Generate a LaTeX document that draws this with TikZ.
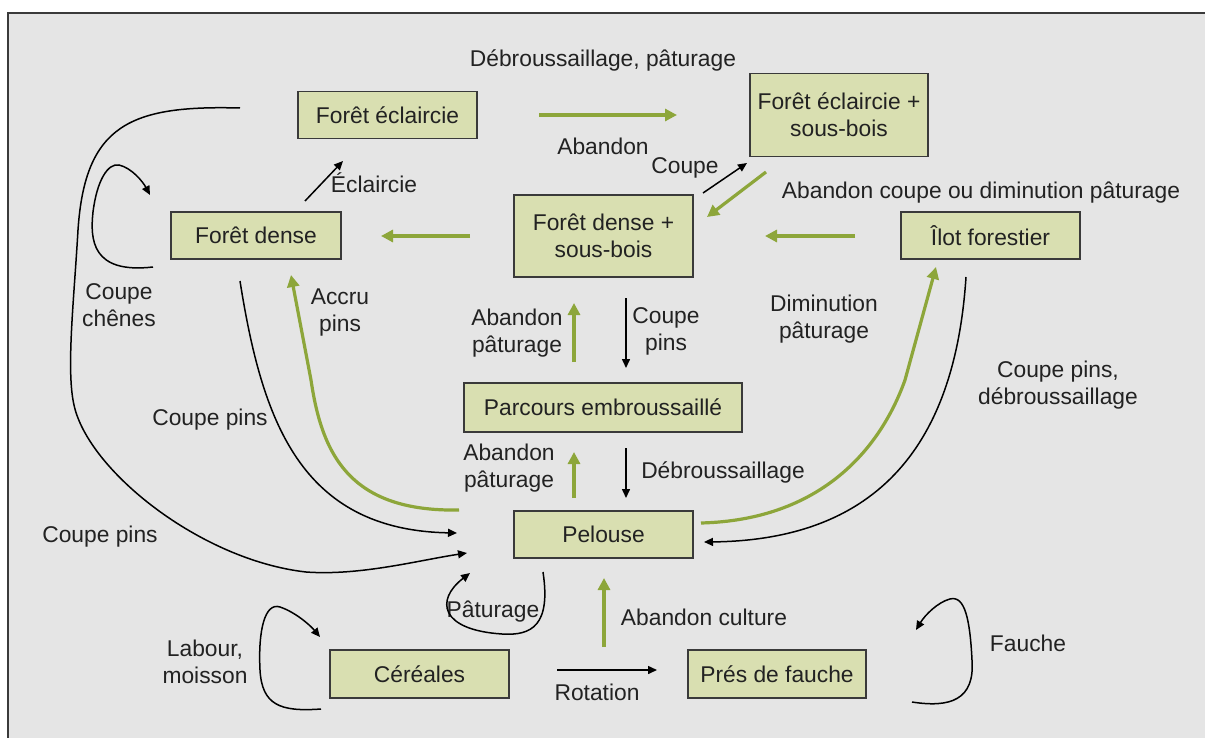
\documentclass[tikz,border=0pt]{standalone}
\usepackage{fontspec}
\setmainfont{Liberation Sans}
\usetikzlibrary{arrows.meta}
\definecolor{bg}{HTML}{E5E5E5}
\definecolor{boxfill}{HTML}{D9DFB1}
\definecolor{grn}{HTML}{8DA63A}
\definecolor{framec}{HTML}{3A3A3A}
\definecolor{txt}{HTML}{222222}
\begin{document}
\begin{tikzpicture}[x=1pt,y=-1pt,
  font=\fontsize{22.8}{27}\selectfont, text=txt,
  box/.style={draw=framec,line width=1.8pt,fill=boxfill,inner sep=0pt,align=center},
  lbl/.style={align=center,inner sep=0pt},
  garr/.style={draw=grn,line width=3.2pt,-{Triangle[length=12pt,width=12pt]}},
  barr/.style={draw=black,line width=1.5pt,-{Triangle[length=9pt,width=8pt]}}]
\useasboundingbox (0,0) rectangle (1205,738);
\fill[white] (0,0) rectangle (1205,738);
\fill[bg] (8,13) rectangle (1205,738);
\draw[framec,line width=2pt] (8,738) -- (8,13) -- (1205,13);

% boxes
\node[box,minimum width=179,minimum height=47] (fe) at (387.5,115) {Forêt éclaircie};
\node[box,minimum width=178,minimum height=83] (fes) at (839,115) {Forêt éclaircie +\\sous-bois};
\node[box,minimum width=170,minimum height=47] (fd) at (256,235.5) {Forêt dense};
\node[box,minimum width=179,minimum height=82] (fds) at (603.5,236) {Forêt dense +\\sous-bois};
\node[box,minimum width=179,minimum height=47] (il) at (990.5,235.5) {Îlot forestier};
\node[box,minimum width=278,minimum height=49] (pe) at (603,407.5) {Parcours embroussaillé};
\node[box,minimum width=179,minimum height=47] (pel) at (603.5,534.5) {Pelouse};
\node[box,minimum width=179,minimum height=48] (ce) at (419.5,674) {Céréales};
\node[box,minimum width=178,minimum height=48] (pf) at (777,674) {Prés de fauche};

% labels
\node[lbl] (l1) at (603,60) {Débroussaillage, pâturage};
\node[lbl] (l2) at (603,146) {Abandon};
\node[lbl] (l3) at (374,183) {Éclaircie};
\node[lbl] (l4) at (685,168) {Coupe};
\node[lbl] (l5) at (981,193) {Abandon coupe ou diminution pâturage};
\node[lbl] (l6) at (119,305) {Coupe\\chênes};
\node[lbl] (l7) at (340,313) {Accru\\pins};
\node[lbl] (l8) at (517,333) {Abandon\\pâturage};
\node[lbl] (l9) at (666,331) {Coupe\\pins};
\node[lbl] (l10) at (824,319) {Diminution\\pâturage};
\node[lbl] (l11) at (210,420) {Coupe pins};
\node[lbl] (l12) at (100,537) {Coupe pins};
\node[lbl] (l13) at (1058,385) {Coupe pins,\\débroussaillage};
\node[lbl] (l14) at (509,468) {Abandon\\pâturage};
\node[lbl] (l15) at (723,472) {Débroussaillage};
\node[lbl] (l16) at (493,612) {Pâturage};
\node[lbl] (l17) at (704,617) {Abandon culture};
\node[lbl] (l18) at (597,692) {Rotation};
\node[lbl] (l19) at (205,662) {Labour,\\moisson};
\node[lbl] (l20) at (1028,643) {Fauche};

% connector end points
\coordinate (a1s) at (539,115);  \coordinate (a1e) at (677,115);
\coordinate (a2s) at (470,236);  \coordinate (a2e) at (381,236);
\coordinate (a3s) at (855,236);  \coordinate (a3e) at (765,236);
\coordinate (a4s) at (766,172);  \coordinate (a4e) at (707,217);
\coordinate (a5s) at (703,193);  \coordinate (a5e) at (747,163);
\coordinate (a6s) at (305,201);  \coordinate (a6e) at (343,161);
\coordinate (a7s) at (626,298);  \coordinate (a7e) at (626,368);
\coordinate (a8s) at (574,362);  \coordinate (a8e) at (574,303);
\coordinate (a9s) at (626,448);  \coordinate (a9e) at (626,498);
\coordinate (a10s) at (574,498); \coordinate (a10e) at (574,452);
\coordinate (a11s) at (604,647); \coordinate (a11e) at (604,578);
\coordinate (a12s) at (557,670); \coordinate (a12e) at (657,670);

\draw[garr] (a1s) -- (a1e);
\draw[garr] (a2s) -- (a2e);
\draw[garr] (a3s) -- (a3e);
\draw[garr] (a4s) -- (a4e);
\draw[barr] (a5s) -- (a5e);
\draw[barr] (a6s) -- (a6e);
\draw[barr] (a7s) -- (a7e);
\draw[garr] (a8s) -- (a8e);
\draw[barr] (a9s) -- (a9e);
\draw[garr] (a10s) -- (a10e);
\draw[garr] (a11s) -- (a11e);
\draw[barr] (a12s) -- (a12e);

% curves
\coordinate (c1s) at (153,267); \coordinate (c1e) at (150,195);
\draw[barr] (c1s) .. controls (92,274) and (90,240) .. (93,212)
  .. controls (97,180) and (108,163) .. (119,165)
  .. controls (132,168) and (143,182) .. (c1e);

\coordinate (c2s) at (240,108); \coordinate (c2e) at (467,553);
\draw[barr] (c2s) .. controls (130,105) and (85,125) .. (78,230)
  .. controls (74,300) and (66,370) .. (74,405)
  .. controls (88,470) and (200,560) .. (306,572)
  .. controls (360,576) and (420,560) .. (c2e);

\coordinate (c3s) at (240,281); \coordinate (c3e) at (457,533);
\draw[barr] (c3s) .. controls (262,420) and (300,530) .. (c3e);

\coordinate (c4s) at (459,510); \coordinate (c4e) at (291,275);
\draw[garr] (c4s) .. controls (350,512) and (322,455) .. (311,380) -- (c4e);

\coordinate (c5s) at (701,523); \coordinate (c5e) at (936,267);
\draw[garr] (c5s) .. controls (820,520) and (880,450) .. (905,380) -- (c5e);

\coordinate (c6s) at (966,277); \coordinate (c6e) at (704,542);
\draw[barr] (c6s) .. controls (956,430) and (890,540) .. (c6e);

\coordinate (c7s) at (543,572); \coordinate (c7e) at (470,573);
\draw[barr] (c7s) .. controls (551,625) and (532,636) .. (502,634)
  .. controls (440,630) and (435,600) .. (c7e);

\coordinate (c8s) at (321,709); \coordinate (c8e) at (320,637);
\draw[barr] (c8s) .. controls (280,712) and (262,705) .. (260,670)
  .. controls (258,630) and (265,602) .. (280,607)
  .. controls (295,612) and (310,625) .. (c8e);

\coordinate (c9s) at (912,702); \coordinate (c9e) at (916,630);
\draw[barr] (c9s) .. controls (950,708) and (975,700) .. (972,660)
  .. controls (970,620) and (965,595) .. (950,599)
  .. controls (938,602) and (925,615) .. (c9e);
\end{tikzpicture}
\end{document}
